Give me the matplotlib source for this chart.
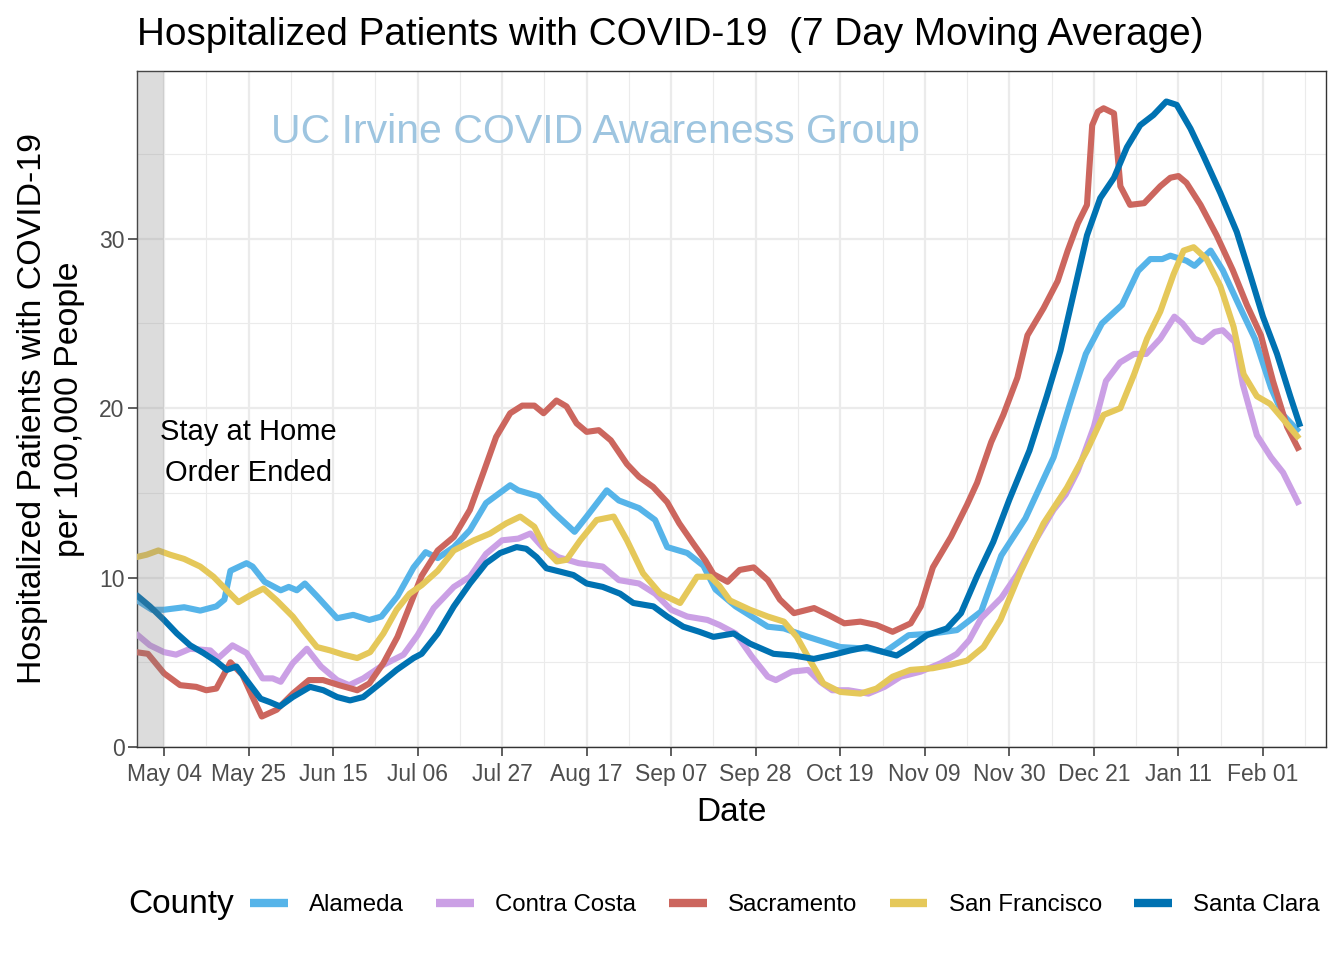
import numpy as np
import matplotlib
matplotlib.use('Agg')
import matplotlib.pyplot as plt

plt.rcParams['font.family'] = ['Liberation Sans', 'DejaVu Sans']

# days counted from 2020-05-04
start = np.datetime64('2020-05-04')

alameda_day = [-7, -3, 0, 5, 9, 13, 15, 16.5, 20.5, 22, 25, 29, 31, 33, 35, 38, 43, 47, 51, 54, 58, 62, 65, 68,
               72, 76, 80, 86, 88, 93, 97, 102, 105, 110, 113, 118, 122, 125, 130, 134, 137, 142, 150, 154, 160,
               168, 175, 179, 185, 191, 197, 203, 208, 214, 221, 225, 229, 233, 238, 242, 245, 248, 250, 254,
               256, 260, 263, 267, 271, 275, 278, 282]
alameda_val = [8.7, 8.1, 8.1, 8.25, 8.05, 8.3, 8.7, 10.4, 10.85, 10.65, 9.75, 9.25, 9.45, 9.25, 9.65, 8.9, 7.6,
               7.8, 7.5, 7.7, 8.9, 10.6, 11.5, 11.15, 11.8, 12.8, 14.4, 15.45, 15.15, 14.8, 13.8, 12.7, 13.6,
               15.15, 14.55, 14.1, 13.4, 11.8, 11.45, 10.7, 9.3, 8.3, 7.1, 7.0, 6.5, 5.9, 5.8, 5.6, 6.6, 6.7,
               6.9, 8.0, 11.3, 13.5, 17.1, 20.2, 23.2, 25.0, 26.1, 28.1, 28.8, 28.8, 29.0, 28.7, 28.4, 29.3,
               28.15, 26.1, 24.1, 21.2, 19.6, 18.6]

contra_day = [-7, -3.5, 0, 3, 6.5, 11.5, 13.5, 17, 20.5, 24.5, 27, 29, 32, 35.5, 39, 43, 46, 49.5, 54.5, 59.5,
              63, 67, 72, 76, 80, 84, 88, 91, 94, 98, 103, 109, 113, 118, 122, 126, 130, 135, 138, 142, 146,
              150, 152, 156, 160, 163, 166, 170, 175, 179, 183, 188, 193, 197, 200, 203, 208, 212, 216, 221,
              224, 227, 231, 234, 237.5, 241, 244, 247.5, 251, 253, 256, 258, 261, 263, 266, 268, 271.5, 275,
              278, 282]
contra_val = [6.7, 6.0, 5.6, 5.45, 5.8, 5.7, 5.25, 6.0, 5.55, 4.05, 4.05, 3.85, 4.95, 5.8, 4.75, 3.95, 3.65,
              4.05, 4.85, 5.45, 6.6, 8.2, 9.45, 10.05, 11.4, 12.2, 12.3, 12.6, 11.8, 11.2, 10.85, 10.65, 9.85,
              9.65, 9.05, 8.1, 7.7, 7.5, 7.2, 6.7, 5.35, 4.15, 3.95, 4.45, 4.55, 3.85, 3.35, 3.35, 3.15, 3.55,
              4.15, 4.45, 4.95, 5.5, 6.3, 7.6, 8.8, 10.2, 12.0, 14.0, 14.9, 16.3, 18.9, 21.6, 22.7, 23.2, 23.2,
              24.1, 25.4, 25.0, 24.1, 23.9, 24.5, 24.6, 23.9, 21.4, 18.4, 17.1, 16.2, 14.3]

sacra_day = [-7, -4, 0, 4, 8, 10.5, 13, 16.5, 19.5, 22, 24.3, 28, 32, 36, 39.5, 43.5, 48, 51, 54.5, 58, 62, 64,
             68, 72, 76, 79.5, 82.5, 86, 89, 92, 94.3, 97.5, 100, 102.5, 105, 108, 111, 115, 118, 121.5, 125,
             128, 131.5, 134.5, 136.5, 140, 143, 146.5, 150, 153, 156.5, 161.5, 165, 169, 173, 177, 181,
             185.5, 188, 191, 195.5, 199.5, 202, 205.5, 208.5, 212, 214.5, 218.5, 222, 224.5, 227, 229.3,
             230.6, 232, 233.4, 236, 237.6, 240, 243.5, 247.5, 250, 252, 254, 257.5, 261.5, 265.5, 269, 272.5,
             275.5, 279, 282]
sacra_val = [5.6, 5.5, 4.35, 3.65, 3.55, 3.35, 3.45, 5.0, 4.25, 2.95, 1.8, 2.2, 3.15, 3.95, 3.95, 3.65, 3.35,
             3.75, 4.95, 6.5, 8.9, 10.1, 11.6, 12.4, 14.0, 16.3, 18.3, 19.7, 20.15, 20.15, 19.7, 20.45, 20.1,
             19.1, 18.6, 18.7, 18.1, 16.7, 15.95, 15.35, 14.45, 13.2, 12.0, 11.0, 10.2, 9.75, 10.45, 10.6,
             9.85, 8.7, 7.9, 8.2, 7.8, 7.3, 7.4, 7.2, 6.8, 7.3, 8.3, 10.6, 12.4, 14.3, 15.6, 18.0, 19.6, 21.8,
             24.3, 25.9, 27.5, 29.3, 30.9, 32.0, 36.7, 37.5, 37.7, 37.4, 33.1, 32.0, 32.1, 33.1, 33.6, 33.7,
             33.3, 32.0, 30.2, 28.15, 26.1, 24.3, 21.6, 18.9, 17.5]

sf_day = [-7, -4.3, -1.4, 1.5, 5, 9, 12.3, 15.6, 18.5, 21.4, 24.7, 28, 32, 34.6, 38, 41.3, 44.6, 48, 51.2,
          54.5, 57.8, 61, 64, 68, 72, 77, 81, 85, 88.5, 92, 95, 97.6, 100, 103.4, 107.5, 111.7, 115, 119,
          123.3, 128.2, 132.4, 135.7, 138, 140.6, 145.6, 150, 154, 157.2, 160.5, 163.8, 168, 173, 177, 181,
          185.4, 191, 195.3, 199.5, 203.6, 207.8, 212.7, 218.5, 224.3, 229.3, 233.4, 237.6, 241, 244.2,
          247.5, 250.8, 253.3, 255.8, 259, 262.4, 265.7, 268.2, 271.5, 274.8, 278, 282]
sf_val = [11.2, 11.35, 11.6, 11.35, 11.1, 10.65, 10.05, 9.25, 8.55, 8.95, 9.35, 8.65, 7.7, 6.9, 5.9, 5.7,
          5.45, 5.25, 5.6, 6.7, 8.1, 9.05, 9.55, 10.4, 11.6, 12.2, 12.6, 13.2, 13.6, 13.0, 11.6, 10.95, 11.05,
          12.2, 13.4, 13.6, 12.2, 10.25, 9.05, 8.5, 10.05, 10.05, 9.5, 8.65, 8.1, 7.7, 7.4, 6.5, 5.1, 3.75,
          3.25, 3.15, 3.45, 4.15, 4.55, 4.65, 4.85, 5.1, 5.9, 7.5, 10.3, 13.2, 15.3, 17.5, 19.6, 20.0, 22.0,
          24.1, 25.7, 27.9, 29.3, 29.5, 28.8, 27.2, 24.8, 22.0, 20.7, 20.25, 19.35, 18.2]

clara_day = [-7, -3.5, 0, 3.2, 6.5, 9.8, 13, 15.6, 18, 20.5, 24, 26.3, 28.8, 32, 36.3, 39.6, 43, 46.2, 49.5,
             53.7, 57.8, 62, 64, 68, 72, 76, 80, 83.5, 87.6, 90, 92.6, 95, 98.4, 101.7, 105, 109, 113.3, 116.6,
             121.6, 125, 129, 133, 136.5, 141.5, 145.6, 151.4, 156.4, 161.4, 166.3, 170.5, 174.6, 178.8, 182,
             185.4, 189.5, 194.5, 198, 202, 206, 210, 215, 219.3, 222.7, 226, 229.3, 232.6, 236, 239.2, 242.5,
             245.8, 249, 251.6, 255, 258.2, 262.4, 266.5, 269.8, 273, 276.5, 279.8, 282.3]
clara_val = [9.0, 8.3, 7.5, 6.7, 6.0, 5.55, 5.05, 4.55, 4.75, 3.95, 2.85, 2.65, 2.4, 2.95, 3.55, 3.35, 2.95,
             2.75, 2.95, 3.75, 4.55, 5.25, 5.5, 6.7, 8.3, 9.65, 10.85, 11.45, 11.8, 11.7, 11.2, 10.55, 10.35,
             10.15, 9.65, 9.45, 9.05, 8.5, 8.3, 7.7, 7.1, 6.8, 6.5, 6.7, 6.1, 5.5, 5.4, 5.2, 5.45, 5.7, 5.9,
             5.6, 5.4, 5.9, 6.6, 7.0, 7.9, 10.1, 12.1, 14.6, 17.5, 20.7, 23.4, 26.8, 30.2, 32.4, 33.6, 35.4,
             36.7, 37.3, 38.1, 37.9, 36.5, 34.9, 32.7, 30.4, 27.9, 25.4, 23.2, 20.7, 18.9]

counties = ['Alameda', 'Contra Costa', 'Sacramento', 'San Francisco', 'Santa Clara']
colors = ['#56B4E9', '#CBA0E5', '#CC665E', '#E5C85A', '#0072B2']
series = [(alameda_day, alameda_val), (contra_day, contra_val), (sacra_day, sacra_val),
          (sf_day, sf_val), (clara_day, clara_val)]

tick_days = np.arange(0, 274, 21)
y_major = [0, 10, 20, 30]
y_minor = [5, 15, 25, 35]


def to_dates(days):
    hours = np.round(np.asarray(days, dtype=float) * 24).astype(int)
    return start + hours * np.timedelta64(1, 'h')


fig = plt.figure(figsize=(13.44, 9.6), dpi=100)
ax = fig.add_axes([137 / 1344, 1 - 747 / 960, (1326 - 137) / 1344, (747 - 71) / 960])

lines = []
for name, col, (d, v) in zip(counties, colors, series):
    ln, = ax.plot(to_dates(d), v, color=col, lw=4.4, label=name, zorder=3,
                  solid_joinstyle='round', solid_capstyle='butt')
    lines.append(ln)

xlim = to_dates([-6.7, 288.65])
ax.set_xlim(xlim)
ax.set_ylim(0, 39.9)

# stay at home order period
ax.axvspan(xlim[0], start, color='#808080', alpha=0.27, lw=0, zorder=4)

ax.set_xticks(to_dates(tick_days))
ax.set_xticklabels([str(t.astype(object).strftime('%b %d')) for t in to_dates(tick_days)])
ax.set_xticks(to_dates(tick_days + 10.5), minor=True)
ax.set_yticks(y_major)
ax.set_yticks(y_minor, minor=True)

ax.grid(which='major', color='#EBEBEB', lw=1.6, zorder=0)
ax.grid(which='minor', color='#EBEBEB', lw=0.8, zorder=0)
ax.set_axisbelow(True)
for s in ax.spines.values():
    s.set_color('#333333')
    s.set_linewidth(1.0)
ax.tick_params(which='major', length=6.5, width=1.1, color='#333333', labelcolor='#4D4D4D',
               labelsize=16.5, pad=2.5)
ax.tick_params(axis='x', which='major', pad=5)
ax.tick_params(which='minor', length=0)

ax.set_xlabel('Date', fontsize=24, labelpad=8)
ax.set_ylabel('Hospitalized Patients with COVID-19\nper 100,000 People', fontsize=24.4, labelpad=10,
              linespacing=1.25)

ax.text(to_dates([21])[0], 17.4, 'Stay at Home\nOrder Ended', fontsize=21, ha='center', va='center',
        linespacing=1.6, zorder=5)
ax.text(to_dates([107.3])[0], 35.63, 'UC Irvine COVID Awareness Group', fontsize=29.5, color='#9EC5E0',
        ha='center', va='baseline', zorder=1)

fig.text(137 / 1344, 1 - 45 / 960, 'Hospitalized Patients with COVID-19  (7 Day Moving Average)',
         fontsize=27.9, va='baseline', ha='left')

leg = fig.legend(handles=lines, loc='center left', bbox_to_anchor=(250 / 1344, 1 - 905 / 960), ncol=5,
                 frameon=False, fontsize=17.3, handlelength=1.58, handletextpad=0.875, columnspacing=1.35,
                 borderpad=0, borderaxespad=0)
for h in leg.legend_handles:
    h.set_linewidth(6)
fig.text(128 / 1344, 1 - 913 / 960, 'County', fontsize=24, va='baseline', ha='left')

fig.savefig('out.png', dpi=100)
